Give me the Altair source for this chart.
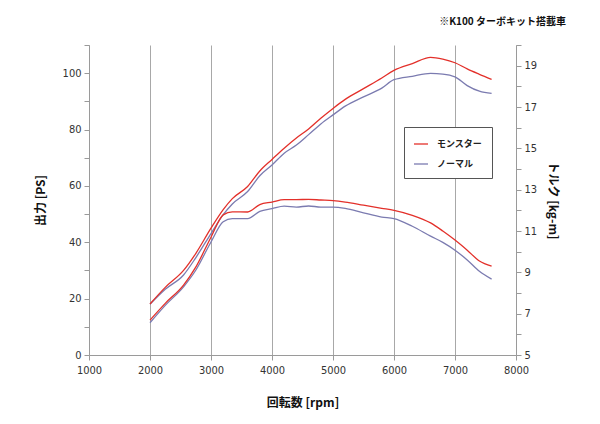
import altair as alt
import pandas as pd

# ---- data ----
rpm = [2000, 2250, 2550, 2750, 3000, 3200, 3350, 3600, 3800, 4000, 4200, 4400, 4600,
       4800, 5000, 5200, 5500, 5800, 6000, 6300, 6600, 6800, 7000, 7200, 7400, 7600]

power_monster = [18.1, 24.0, 30.0, 36.0, 45.0, 51.6, 55.5, 59.8, 65.3, 69.4, 73.4, 77.0, 80.2,
                 84.0, 87.5, 90.7, 94.5, 98.3, 101.0, 103.4, 105.6, 105.0, 103.7, 101.5, 99.6, 97.8]
power_normal = [18.0, 23.3, 28.4, 34.5, 43.1, 49.8, 53.6, 58.0, 63.6, 67.4, 71.6, 74.5, 78.2,
                82.0, 85.2, 88.3, 91.6, 94.7, 97.7, 98.9, 99.9, 99.7, 98.7, 95.6, 93.6, 92.8]

torque_monster = [6.69, 7.5, 8.38, 9.25, 10.7, 11.78, 11.93, 11.92, 12.28, 12.4, 12.52, 12.52, 12.53,
                  12.5, 12.47, 12.4, 12.25, 12.1, 12.0, 11.76, 11.39, 11.0, 10.56, 10.07, 9.55, 9.3]
torque_normal = [6.56, 7.4, 8.3, 9.1, 10.47, 11.45, 11.6, 11.6, 11.95, 12.08, 12.2, 12.16, 12.21,
                 12.16, 12.16, 12.1, 11.88, 11.67, 11.6, 11.23, 10.75, 10.45, 10.07, 9.6, 9.05, 8.67]

series_names = ["モンスター", "ノーマル"]
series_colors = ["#e3302a", "#7b7bb0"]

x_ticks = [1000, 2000, 3000, 4000, 5000, 6000, 7000, 8000]
left_ticks = [0, 10, 20, 30, 40, 50, 60, 70, 80, 90, 100, 110]
right_ticks = [5, 6, 7, 8, 9, 10, 11, 12, 13, 14, 15, 16, 17, 18, 19, 20]

note = "※K100 ターボキット搭載車"

# ---- tables ----
n = len(rpm)
power_df = pd.DataFrame({
    "rpm": rpm + rpm,
    "value": power_normal + power_monster,
    "series": [series_names[1]] * n + [series_names[0]] * n,
})
torque_df = pd.DataFrame({
    "rpm": rpm + rpm,
    "value": torque_normal + torque_monster,
    "series": [series_names[1]] * n + [series_names[0]] * n,
})
note_df = pd.DataFrame({"t": [note]})

LABEL_FONT = "Liberation Sans Narrow, DejaVu Sans Condensed, Roboto, sans-serif"
CJK = "Noto Sans CJK JP"
AXIS_GRAY = "#9a9a9a"

x_enc = alt.X(
    "rpm:Q",
    scale=alt.Scale(domain=[1000, 8000], nice=False, zero=False),
    axis=alt.Axis(
        values=x_ticks, format="d", title="回転数 [rpm]",
        grid=True, gridColor="#a8a8a8", gridWidth=1,
        domainColor=AXIS_GRAY, tickColor=AXIS_GRAY, tickSize=5,
        labelFont=LABEL_FONT, labelFontSize=11, labelColor="#333", labelPadding=4,
        labelFlush=False, labelOverlap=False,
        titleFont=CJK, titleFontSize=12, titleFontWeight="bold", titleColor="#111",
        titleBaseline="middle", titleY=47,
    ),
)

color_enc = alt.Color(
    "series:N",
    scale=alt.Scale(domain=series_names, range=series_colors),
    legend=alt.Legend(
        title=None, orient="none", legendX=315, legendY=82,
        strokeColor="#555", fillColor="white", padding=9,
        symbolType="stroke", symbolSize=196, symbolStrokeWidth=1.3,
        labelFont=CJK, labelFontSize=9, labelFontWeight="bold", labelColor="#222",
        labelOffset=8, rowPadding=7,
    ),
)

power = alt.Chart(power_df).mark_line(interpolate="monotone", strokeWidth=1.3).encode(
    x=x_enc,
    y=alt.Y(
        "value:Q",
        scale=alt.Scale(domain=[0, 110], nice=False),
        axis=alt.Axis(
            orient="left", values=left_ticks,
            labelExpr="datum.value % 20 === 0 ? datum.label : ''",
            title="出力 [PS]", grid=False,
            domainColor=AXIS_GRAY, tickColor=AXIS_GRAY, tickSize=5,
            labelFont=LABEL_FONT, labelFontSize=11, labelColor="#333", labelPadding=3,
            labelFlush=False, labelOverlap=False,
            titleFont=CJK, titleFontSize=12, titleFontWeight="bold", titleColor="#111",
            titleAngle=270, titleX=-49, titleY=155, titleBaseline="middle", titleAlign="center",
        ),
    ),
    color=color_enc,
)

torque = alt.Chart(torque_df).mark_line(interpolate="monotone", strokeWidth=1.3).encode(
    x=x_enc,
    y=alt.Y(
        "value:Q",
        scale=alt.Scale(domain=[5, 20], nice=False, zero=False),
        axis=alt.Axis(
            orient="right", values=right_ticks,
            labelExpr="datum.value % 2 === 1 ? datum.label : ''",
            title="トルク [kg-m]", grid=False,
            domainColor=AXIS_GRAY, tickColor=AXIS_GRAY, tickSize=5,
            labelFont=LABEL_FONT, labelFontSize=11, labelColor="#333", labelPadding=3,
            labelFlush=False, labelOverlap=False,
            titleFont=CJK, titleFontSize=12, titleFontWeight="bold", titleColor="#111",
            titleAngle=90, titleX=36, titleY=155, titleBaseline="middle", titleAlign="center",
        ),
    ),
    color=color_enc,
)

note_layer = alt.Chart(note_df).mark_text(
    align="right", baseline="middle", font=CJK, fontSize=10, fontWeight="bold", color="#111"
).encode(x=alt.value(477), y=alt.value(-23), text="t:N")

chart = alt.layer(power, torque, note_layer).resolve_scale(y="independent").properties(
    width=427, height=310,
    padding={"left": 81, "top": 37, "right": 76, "bottom": 61},
    autosize=alt.AutoSizeParams(type="none"),
    background="white",
).configure_view(strokeWidth=0)

chart.save("out.html", embed_options={"renderer": "svg", "actions": False})
